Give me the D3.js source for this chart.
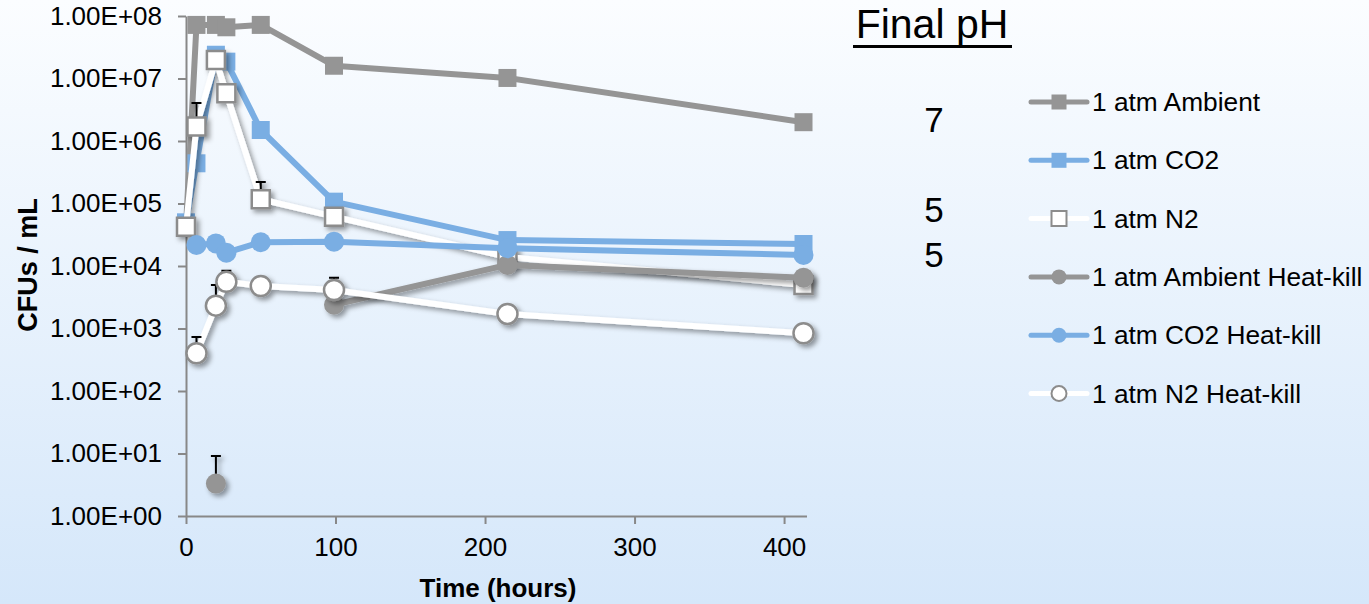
<!DOCTYPE html>
<html>
<head>
<meta charset="utf-8">
<script src="https://cdn.jsdelivr.net/npm/d3@7"></script>
<style>
  html, body { margin: 0; padding: 0; }
  body { width: 1369px; height: 604px; overflow: hidden; }
  text { font-family: "Liberation Sans", Arial, sans-serif; }
</style>
</head>
<body>
<script>
// sampling times (hours)
const times = [0, 7, 20, 27, 50, 99, 215, 413];

// CFUs / mL per series (null = no sample)
const ambient   = [4.2e4, 7.2e7, 7.2e7, 6.6e7, 7.2e7, 1.6e7, 1.02e7, 2.0e6];
const co2       = [5.0e4, 4.4e5, 2.4e7, 1.86e7, 1.5e6, 1.07e5, 2.6e4, 2.25e4];
const n2        = [4.25e4, 1.7e6, 1.98e7, 5.8e6, 1.17e5, 6.15e4, 1.39e4, 4.97e3];
const ambientHK = [null, null, 3.3, null, null, 2.4e3, 1.04e4, 6.5e3];
const co2HK     = [null, 2.17e4, 2.3e4, 1.63e4, 2.4e4, 2.45e4, 1.92e4, 1.5e4];
const n2HK      = [null, 401, 2.32e3, 5.6e3, 4.79e3, 4.13e3, 1.71e3, 838];

// upper end of the error bars
const n2Err        = [null, 4.06e6, null, null, 2.2e5, null, null, null];
const ambientHKErr = [null, null, 9.1, null, null, null, null, null];
const n2HKErr      = [null, 731, 4.97e3, 8.4e3, null, 6.5e3, null, null];

const seriesNames = ["1 atm Ambient", "1 atm CO2", "1 atm N2",
                     "1 atm Ambient Heat-kill", "1 atm CO2 Heat-kill", "1 atm N2 Heat-kill"];
const xTicks = [0, 100, 200, 300, 400];
const yTicks = [1, 1e1, 1e2, 1e3, 1e4, 1e5, 1e6, 1e7, 1e8];
const phLabels = ["7", "5", "5"];

const gray = "#959595", blue = "#7aaee3", edge = "#8c8c8c";

const series = [
  {name: seriesNames[0], values: ambient,   err: null,         color: gray,   shape: "square", fill: gray,   stroke: "none", shadow: false},
  {name: seriesNames[1], values: co2,       err: null,         color: blue,   shape: "square", fill: blue,   stroke: "none", shadow: false},
  {name: seriesNames[2], values: n2,        err: n2Err,        color: "#fff", shape: "square", fill: "#fff", stroke: edge,   shadow: true},
  {name: seriesNames[3], values: ambientHK, err: ambientHKErr, color: gray,   shape: "circle", fill: gray,   stroke: "none", shadow: true},
  {name: seriesNames[4], values: co2HK,     err: null,         color: blue,   shape: "circle", fill: blue,   stroke: "none", shadow: false},
  {name: seriesNames[5], values: n2HK,      err: n2HKErr,      color: "#fff", shape: "circle", fill: "#fff", stroke: edge,   shadow: true}
];

const width = 1369, height = 604;
const svg = d3.select("body").append("svg")
    .attr("width", width)
    .attr("height", height);

const defs = svg.append("defs");
let grad = defs.append("linearGradient")
    .attr("id", "bg")
    .attr("x1", 0).attr("y1", 0).attr("x2", 0).attr("y2", 1);
grad.append("stop").attr("offset", "0%").attr("stop-color", "#fbfdff");
grad.append("stop").attr("offset", "100%").attr("stop-color", "#d5e7fa");

defs.append("filter")
    .attr("id", "shadow")
    .attr("x", "-50%").attr("y", "-50%").attr("width", "200%").attr("height", "200%")
  .append("feDropShadow")
    .attr("dx", 3).attr("dy", 3)
    .attr("stdDeviation", 2.5)
    .attr("flood-color", "#000")
    .attr("flood-opacity", 0.4);

svg.append("rect")
    .attr("width", width)
    .attr("height", height)
    .attr("fill", "url(#bg)");

let xScale = d3.scaleLinear()
    .domain([0, 415])
    .range([186, 806.5]);
let yScale = d3.scaleLog()
    .domain([1, 1e8])
    .range([516, 16]);

// axes
let yAxis = svg.append("g")
    .attr("transform", "translate(" + 186 + ",0)")
    .call(d3.axisLeft(yScale)
        .tickValues(yTicks)
        .tickSize(8)
        .tickSizeOuter(0)
        .tickPadding(16)
        .tickFormat(d => "1.00E+" + String(Math.round(Math.log10(d))).padStart(2, "0")));

let xAxis = svg.append("g")
    .attr("transform", "translate(0," + 516 + ")")
    .call(d3.axisBottom(xScale)
        .tickValues(xTicks)
        .tickSize(8)
        .tickSizeOuter(0)
        .tickPadding(14)
        .tickFormat(d3.format("d")));

svg.selectAll(".domain, .tick line")
    .attr("stroke", "#888")
    .attr("stroke-width", 2);
svg.selectAll(".tick text")
    .attr("fill", "#000")
    .style("font-size", "26px")
    .style("font-family", "'Liberation Sans', Arial, sans-serif");

svg.append("text")
    .text("Time (hours)")
    .attr("x", 498)
    .attr("y", 597)
    .attr("text-anchor", "middle")
    .style("font-size", "26px")
    .style("font-weight", "bold");

svg.append("text")
    .text("CFUs / mL")
    .attr("transform", "translate(37,265) rotate(-90)")
    .attr("text-anchor", "middle")
    .style("font-size", "27px")
    .style("font-weight", "bold");

// series
let lineGen = d3.line()
    .defined(d => d.v != null)
    .x(d => xScale(d.t))
    .y(d => yScale(d.v));

let symSquare = d3.symbol().type(d3.symbolSquare).size(18 * 18)();
let symCircle = d3.symbol().type(d3.symbolCircle).size(Math.PI * 10 * 10)();

let plot = svg.append("g").attr("id", "plotGroup");

series.forEach(s => {
    let pts = times.map((t, i) => ({t: t, v: s.values[i], e: s.err ? s.err[i] : null}));
    let g = plot.append("g").attr("class", "series");
    if (s.shadow) g.attr("filter", "url(#shadow)");

    g.append("path")
        .attr("d", lineGen(pts))
        .attr("fill", "none")
        .attr("stroke", s.color)
        .attr("stroke-width", 6)
        .attr("stroke-linejoin", "round");

    let bars = pts.filter(d => d.e != null && d.v != null);
    g.selectAll(".errbar").data(bars).enter().append("path")
        .attr("class", "errbar")
        .attr("d", d => {
            let x = xScale(d.t), y0 = yScale(d.v), y1 = yScale(d.e);
            return "M" + x + "," + y0 + "V" + y1 + "M" + (x - 5) + "," + y1 + "H" + (x + 5);
        })
        .attr("stroke", "#000")
        .attr("stroke-width", 2)
        .attr("fill", "none");

    g.selectAll(".marker").data(pts.filter(d => d.v != null)).enter().append("path")
        .attr("class", "marker")
        .attr("d", s.shape === "square" ? symSquare : symCircle)
        .attr("transform", d => "translate(" + xScale(d.t) + "," + yScale(d.v) + ")")
        .attr("fill", s.fill)
        .attr("stroke", s.stroke)
        .attr("stroke-width", 2.5);
});

// legend
let legend = svg.append("g").attr("id", "legendGroup");
let legSquare = d3.symbol().type(d3.symbolSquare).size(15 * 15)();
let legCircle = d3.symbol().type(d3.symbolCircle).size(Math.PI * 7.5 * 7.5)();
series.forEach((s, i) => {
    let y = 102 + i * 58.3;
    let row = legend.append("g").attr("transform", "translate(0," + y + ")");
    row.append("line")
        .attr("x1", 1031).attr("x2", 1087)
        .attr("y1", 0).attr("y2", 0)
        .attr("stroke", s.color)
        .attr("stroke-width", 5)
        .attr("stroke-linecap", "round");
    row.append("path")
        .attr("d", s.shape === "square" ? legSquare : legCircle)
        .attr("transform", "translate(1059,0)")
        .attr("fill", s.fill)
        .attr("stroke", s.stroke)
        .attr("stroke-width", 2);
    row.append("text")
        .text(s.name)
        .attr("x", 1092)
        .attr("y", 9)
        .style("font-size", "26.3px")
        .attr("fill", "#000");
});

// final pH annotation
let ph = svg.append("g").attr("id", "phGroup");
ph.append("text")
    .text("Final pH")
    .attr("x", 932)
    .attr("y", 38)
    .attr("text-anchor", "middle")
    .style("font-size", "41px");
ph.append("line")
    .attr("x1", 853).attr("x2", 1012)
    .attr("y1", 46.5).attr("y2", 46.5)
    .attr("stroke", "#000")
    .attr("stroke-width", 3);
let phY = [132, 222, 267];
ph.selectAll(".phval").data(phLabels).enter().append("text")
    .attr("class", "phval")
    .text(d => d)
    .attr("x", 934)
    .attr("y", (d, i) => phY[i])
    .attr("text-anchor", "middle")
    .style("font-size", "35px");
</script>
</body>
</html>
